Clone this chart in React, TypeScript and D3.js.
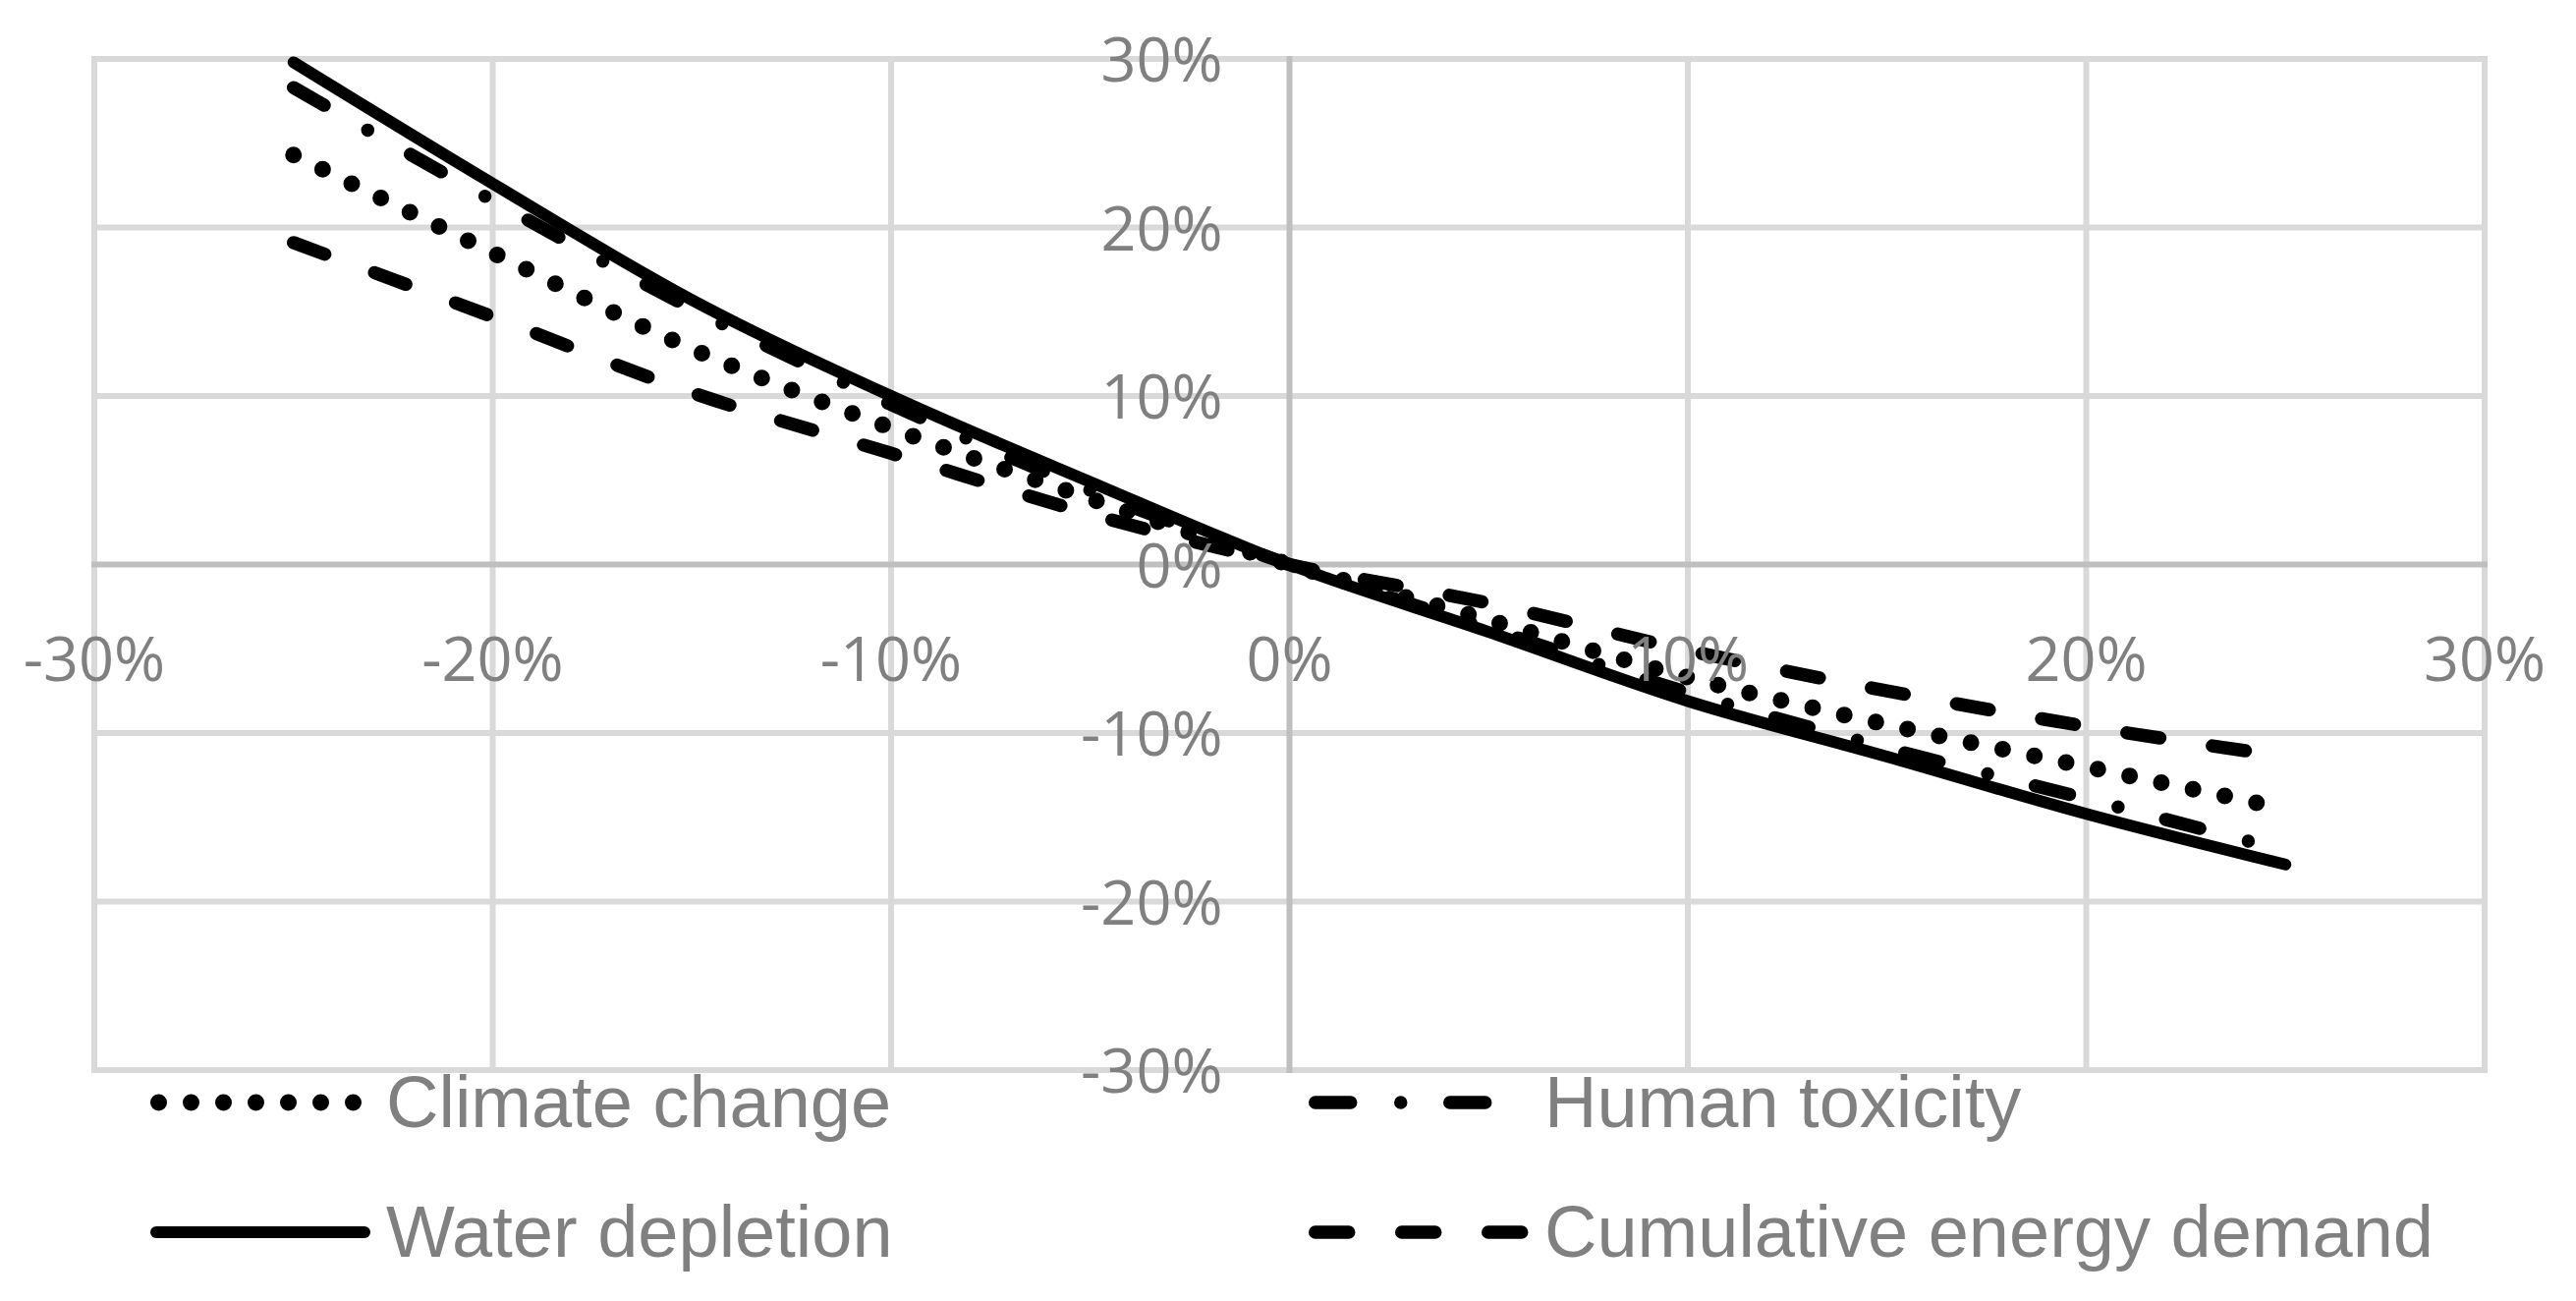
import * as d3 from "d3";

// x positions (change of parameter) and the four series
const xSteps = [ -0.25, -0.2, -0.15, -0.1, -0.05, 0, 0.05, 0.1, 0.15, 0.2, 0.25 ];
const climateChange = [ 0.243, 0.185, 0.128, 0.081, 0.039, 0, -0.033, -0.067, -0.095, -0.12, -0.145 ];
const humanToxicity = [ 0.283, 0.216, 0.152, 0.095, 0.044, 0, -0.038, -0.076, -0.109, -0.139, -0.17 ];
const waterDepletion = [ 0.298, 0.226, 0.157, 0.1, 0.049, 0, -0.04, -0.081, -0.114, -0.148, -0.178 ];
const energyDemand = [ 0.191, 0.147, 0.102, 0.066, 0.03, 0, -0.023, -0.051, -0.075, -0.096, -0.114 ];

const xTicks = [ -0.3, -0.2, -0.1, 0, 0.1, 0.2, 0.3 ];
const yTicks = [ -0.3, -0.2, -0.1, 0, 0.1, 0.2, 0.3 ];

const W = 2622;
const H = 1324;

interface Series
{
    label: string;
    values: number[];
    width: number;
    dash: string | null;
}

const series: Series[] = [
    { label: "Climate change", values: climateChange, width: 17, dash: "0 33" },
    { label: "Human toxicity", values: humanToxicity, width: 13.5, dash: "36 51 0 50" },
    { label: "Water depletion", values: waterDepletion, width: 12, dash: null },
    { label: "Cumulative energy demand", values: energyDemand, width: 13.5, dash: "34 54" },
];

const AXIS_FONT = "'Open Sans', sans-serif";
const LEGEND_FONT = "'Liberation Sans', Arial, sans-serif";
const TEXT = "#808080";

export default function App ()
{
    const x = d3.scaleLinear().domain( [ -0.3, 0.3 ] ).range( [ 96, 2529 ] );
    const y = d3.scaleLinear().domain( [ -0.3, 0.3 ] ).range( [ 1089, 60 ] );
    // Excel-style labels use a plain hyphen for negatives
    const fmt = ( v: number ) => d3.format( ".0%" )( v ).replace( "\u2212", "-" );

    const line = d3.line<number>()
        .x( ( _, i ) => x( xSteps[ i ] ) )
        .y( ( d ) => y( d ) )
        .curve( d3.curveMonotoneX );

    // legend: 2 columns, filled row by row
    const legendCols = [ 153, 1332 ];
    const legendRows = [ 1122, 1254 ];
    const sampleLen = 224;

    return (
        <div style={ { position: "absolute", left: 0, top: 0, width: W, height: H, background: "#fff" } }>
            <svg width={ W } height={ H } viewBox={ `0 0 ${ W } ${ H }` }>
                <rect width={ W } height={ H } fill="#fff" />

                {/* Grid */ }
                <g stroke="#d9d9d9" strokeWidth={ 6 }>
                    { xTicks.filter( ( t ) => t !== 0 ).map( ( t ) => (
                        <line key={ "vx" + t } x1={ x( t ) } x2={ x( t ) } y1={ y( 0.3 ) - 3 } y2={ y( -0.3 ) + 3 } />
                    ) ) }
                    { yTicks.filter( ( t ) => t !== 0 ).map( ( t ) => (
                        <line key={ "hy" + t } x1={ x( -0.3 ) - 3 } x2={ x( 0.3 ) + 3 } y1={ y( t ) } y2={ y( t ) } />
                    ) ) }
                </g>
                {/* Zero axes */ }
                <g stroke="#bfbfbf" strokeWidth={ 6 }>
                    <line x1={ x( 0 ) } x2={ x( 0 ) } y1={ y( 0.3 ) - 3 } y2={ y( -0.3 ) + 3 } />
                    <line x1={ x( -0.3 ) - 3 } x2={ x( 0.3 ) + 3 } y1={ y( 0 ) } y2={ y( 0 ) } />
                </g>

                {/* Series */ }
                { series.map( ( s ) => (
                    <path key={ s.label } d={ line( s.values ) || "" } fill="none" stroke="#000"
                        strokeWidth={ s.width } strokeLinecap="round" strokeLinejoin="round"
                        strokeDasharray={ s.dash ?? undefined } />
                ) ) }

                {/* Axis labels */ }
                <g fill={ TEXT } style={ { fontFamily: AXIS_FONT, fontSize: 63 } }>
                    { xTicks.map( ( t ) => (
                        <text key={ "xl" + t } x={ x( t ) } y={ y( 0 ) + 118 } textAnchor="middle">{ fmt( t ) }</text>
                    ) ) }
                    { yTicks.map( ( t ) => (
                        <text key={ "yl" + t } x={ x( 0 ) - 68 } y={ y( t ) + 23 } textAnchor="end">{ fmt( t ) }</text>
                    ) ) }
                </g>

                {/* Legend */ }
                { series.map( ( s, i ) =>
                {
                    const lx = legendCols[ i % 2 ];
                    const ly = legendRows[ Math.floor( i / 2 ) ];
                    return (
                        <g key={ "lg" + s.label }>
                            <line x1={ lx + s.width / 2 } x2={ lx + sampleLen - s.width / 2 } y1={ ly } y2={ ly }
                                stroke="#000" strokeWidth={ s.width } strokeLinecap="round"
                                strokeDasharray={ s.dash ?? undefined } />
                            <text x={ lx + sampleLen + 16 } y={ ly + 25 } fill={ TEXT }
                                style={ { fontFamily: LEGEND_FONT, fontSize: 74 } }>{ s.label }</text>
                        </g>
                    );
                } ) }
            </svg>
        </div>
    );
}
